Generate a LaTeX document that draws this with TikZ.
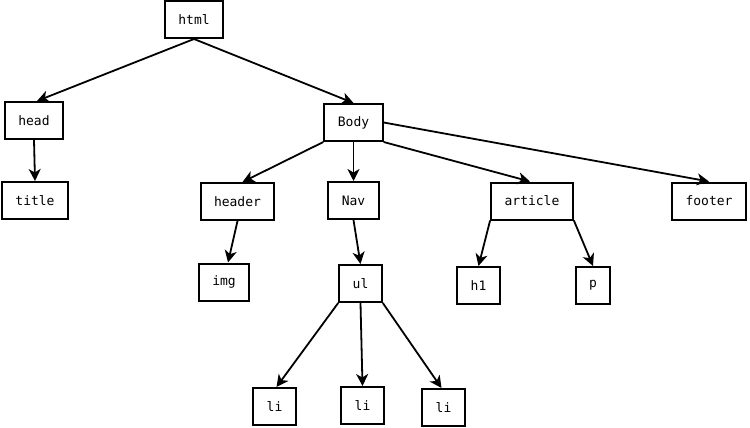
\documentclass[tikz,border=0pt]{standalone}
\usepackage{fontspec}
\setmonofont{DejaVu Sans Mono}
\usetikzlibrary{arrows.meta}
\begin{document}
\begin{tikzpicture}
[x=1pt,y=-1pt,
every node/.style={draw, line width=2pt, inner xsep=13.5pt, minimum height=37pt,
  font=\ttfamily\fontsize{13}{15}\selectfont},
every edge/.append style={line width=1.8pt,-{Stealth[length=12pt,width=12pt,inset=3.5pt]}},
]
\useasboundingbox (0,0) rectangle (750,428);

\node (html) at (194,19.5) {html};
\node (head) at (34,120.5) {head};
\node (title) at (35,200.5) {title};
\node (body) at (353.5,122.5) {Body};
\node (header) at (237.5,201.5) {header};
\node (nav) at (353.5,200.5) {Nav};
\node (article) at (532,201) {article};
\node (footer) at (709,201) {footer};
\node (img) at (224,282) {img};
\node (ul) at (360.5,283.5) {ul};
\node (hone) at (478.5,285.5) {h1};
\node (p) at (593,285.5) {p};
\foreach \i/\x/\y in {1/274.5/406.5, 2/362.5/405.5, 3/443.5/407.5}
{
{\node (li\i) at (\x,\y) {li};}
}

\draw (html.south) edge ([xshift=3pt]head.north);
\draw (html.south) edge (body.north);
\draw (head.south) edge (title.north);
\draw (body.south west) edge ([xshift=5pt]header.north);
\draw (body.south) edge (nav.north);
\draw (body.south east) edge ([xshift=-2pt]article.north);
\draw (body.east) edge (footer.north);
\draw (header.south) edge ([xshift=4pt]img.north);
\draw (nav.south) edge (ul.north);
\draw (article.south west) edge (hone.north);
\draw (article.south east) edge (p.north);
\draw (ul.south west) edge ([xshift=2pt]li1.north);
\draw (ul.south) edge (li2.north);
\draw (ul.south east) edge ([xshift=-2pt]li3.north);
\end{tikzpicture}
\end{document}
